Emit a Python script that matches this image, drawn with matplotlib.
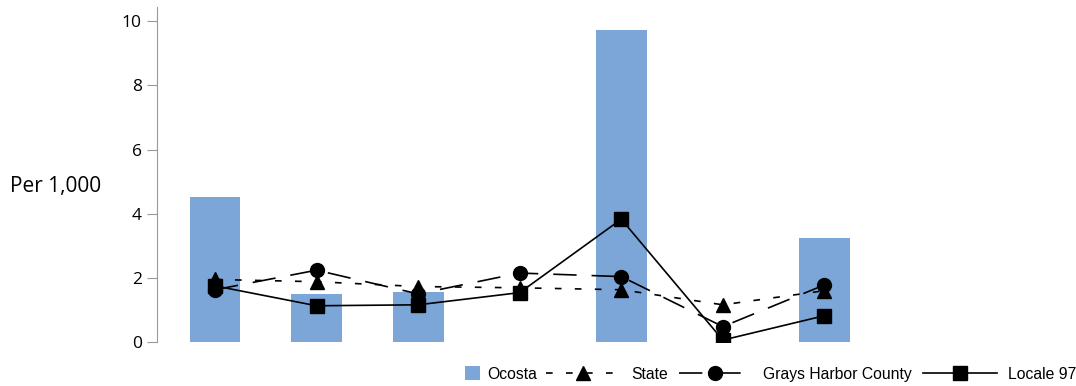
import matplotlib
matplotlib.use("Agg")
import matplotlib.pyplot as plt
import numpy as np

categories = ["c1", "c2", "c3", "c4", "c5", "c6", "c7"]
ocosta = [4.52, 1.5, 1.56, 0.0, 9.73, 0.0, 3.24]
state = [1.95, 1.88, 1.73, 1.69, 1.63, 1.16, 1.6]
grays_harbor = [1.63, 2.24, 1.5, 2.15, 2.04, 0.48, 1.78]
locale_97 = [1.75, 1.13, 1.16, 1.54, 3.83, 0.06, 0.82]

x = np.arange(len(categories))

fig = plt.figure(figsize=(10.76, 3.86), dpi=100)
ax = fig.add_axes([0.146, 0.114, 0.674, 0.868])

bars = ax.bar(x, ocosta, width=0.5, color="#7DA6D8", label="Ocosta", zorder=1)
l1, = ax.plot(x, state, color="black", lw=1.2, dashes=(4, 8), marker="^", ms=10,
              label="State", zorder=3)
l2, = ax.plot(x, grays_harbor, color="black", lw=1.2, dashes=(14, 9), marker="o",
              ms=10, label="Grays Harbor County", zorder=3)
l3, = ax.plot(x, locale_97, color="black", lw=1.2, marker="s", ms=9.5,
              label="Locale 97", zorder=4)

ax.set_xlim(-0.57, 6.57)
ax.set_ylim(0, 10.45)
ax.set_yticks([0, 2, 4, 6, 8, 10])
ax.set_xticks([])
for s in ["top", "right", "bottom"]:
    ax.spines[s].set_visible(False)
ax.spines["left"].set_color("#999999")
ax.tick_params(axis="y", length=7, color="#999999", labelsize=12.5, pad=4)
for t in ax.get_yticklabels():
    t.set_fontfamily("Open Sans")

fig.text(0.009, 0.518, "Per 1,000", fontsize=15, family="Open Sans",
         va="center", ha="left")

legprop = {"family": "Liberation Sans", "size": 11.3}
# two legends so the bar patch gets a short square handle
fig.legend([bars], ["Ocosta"], loc="center right",
           bbox_to_anchor=(0.499, 0.031), frameon=False, borderpad=0,
           borderaxespad=0, handlelength=0.95, handleheight=0.95,
           handletextpad=0.45, prop=legprop)
fig.legend([l1, l2, l3], ["State", "Grays Harbor County", "Locale 97"],
           loc="center right", bbox_to_anchor=(1.0, 0.031), ncol=3,
           frameon=False, borderpad=0, borderaxespad=0, handlelength=4.7,
           handletextpad=0.7, columnspacing=0.7, prop=legprop)

fig.savefig("out.png", dpi=100)
